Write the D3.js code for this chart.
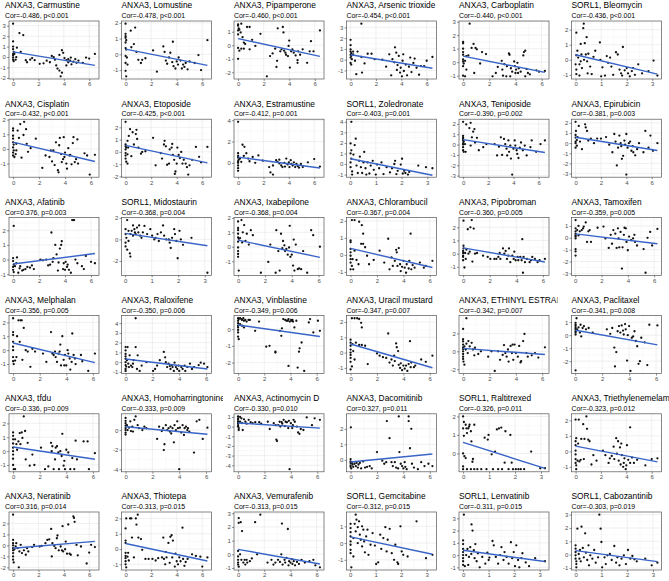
<!DOCTYPE html>
<html>
<head>
<meta charset="utf-8">
<script src="https://cdn.jsdelivr.net/npm/d3@7"></script>
<style>
body { margin: 0; background: #fff; }
text { font-family: "Liberation Sans", Arial, Helvetica, sans-serif; }
</style>
</head>
<body>
<script>
// panel titles, in reading order (6 per row)
const titles = [
  "ANXA3, Carmustine", "ANXA3, Lomustine", "ANXA3, Pipamperone", "ANXA3, Arsenic trioxide", "ANXA3, Carboplatin", "SORL1, Bleomycin",
  "ANXA3, Cisplatin", "ANXA3, Etoposide", "ANXA3, Estramustine", "SORL1, Zoledronate", "ANXA3, Teniposide", "ANXA3, Epirubicin",
  "ANXA3, Afatinib", "SORL1, Midostaurin", "ANXA3, Ixabepilone", "ANXA3, Chlorambucil", "ANXA3, Pipobroman", "ANXA3, Tamoxifen",
  "ANXA3, Melphalan", "ANXA3, Raloxifene", "ANXA3, Vinblastine", "ANXA3, Uracil mustard", "ANXA3, ETHINYL ESTRADIOL", "ANXA3, Paclitaxel",
  "ANXA3, tfdu", "ANXA3, Homoharringtonine", "ANXA3, Actinomycin D", "ANXA3, Dacomitinib", "SORL1, Raltitrexed", "ANXA3, Triethylenemelamine",
  "ANXA3, Neratinib", "ANXA3, Thiotepa", "ANXA3, Vemurafenib", "SORL1, Gemcitabine", "SORL1, Lenvatinib", "SORL1, Cabozantinib"
];

const corValues = [
  "-0.486", "-0.478", "-0.460", "-0.454", "-0.440", "-0.436",
  "-0.432", "-0.425", "-0.412", "-0.403", "-0.390", "-0.381",
  "0.376", "-0.368", "-0.368", "-0.367", "-0.360", "-0.359",
  "-0.356", "-0.350", "-0.349", "-0.347", "-0.342", "-0.341",
  "-0.336", "-0.333", "-0.330", "0.327", "-0.326", "-0.323",
  "0.316", "-0.313", "-0.313", "-0.312", "-0.311", "-0.303"
];
const pValues = [
  "<0.001", "<0.001", "<0.001", "<0.001", "<0.001", "<0.001",
  "<0.001", "<0.001", "=0.001", "=0.001", "=0.002", "=0.003",
  "=0.003", "=0.004", "=0.004", "=0.004", "=0.005", "=0.005",
  "=0.005", "=0.006", "=0.006", "=0.007", "=0.007", "=0.008",
  "=0.009", "=0.009", "=0.010", "=0.011", "=0.011", "=0.012",
  "=0.014", "=0.015", "=0.015", "=0.015", "=0.015", "=0.019"
];

const xTicksANXA3 = [0, 2, 4, 6];
const xTicksSORL1 = [0, 1, 2, 3];
const yTicks = [
  [3,2,1,0,-1,-2], [2,1,0,-1], [1,0,-1,-2], [3,2,1,0,-1], [3,2,1,0,-1], [2,1,0,-1],
  [2,1,0,-1], [2,1,0,-1,-2], [4,2,0], [4,3,2,1,0,-1], [2,1,0,-1,-2,-3], [2,1,0,-1,-2,-3],
  [2,1,0,-1], [2,0,-2], [2,1,0,-1], [2,1,0,-1], [2,1,0,-1], [1,0,-1,-2,-3],
  [2,1,0,-1], [4,3,2,1,0,-1], [0,-1,-2], [2,1,0,-1], [2,0,-2], [1,0,-1,-2],
  [2,1,0,-1], [0,-2,-4], [1,0,-1,-2,-3,-4], [2,1,0], [2,1,0,-1], [2,1,0,-1],
  [2,1,0,-1,-2], [2,1,0,-1], [3,2,1,0,-1], [1,0,-1], [3,2,1,0,-1], [3,2,1,0,-1]
];

// expression (x) , z-score (y) pairs, flattened, one list per panel
const points = [
  [0,3.2, 0,1.5, 0,1.0, 0,0.75, 0.05,0.5, 0,0.3, 0,0.15, 0,-0.05, 0,-0.25, 0.05,-0.4, 0.2,-0.25, 0.25,0, 0.1,0.3, 0.5,2.3, 0.8,2.1, 0.3,0.9, 0.6,0.5, 1.0,-0.3, 1.1,-0.5, 1.35,-0.25, 1.5,-0.1, 1.7,-0.3, 2.1,-0.65, 2.4,-0.6, 2.65,-0.35, 2.9,-0.5, 3.05,0.1, 3.2,0, 3.3,-0.25, 3.4,-0.8, 3.5,-1.1, 3.65,-1.3, 3.75,-1.85, 3.85,-1.5, 3.85,0.65, 3.95,0.4, 3.65,0.2, 4.05,-0.1, 4.2,-0.3, 4.35,-0.5, 4.5,-0.35, 4.6,-0.7, 4.75,-0.45, 4.9,-0.2, 5.0,-0.55, 5.15,-0.35, 4.2,-0.8, 4.35,-0.2, 4.55,-0.05, 5.5,-0.55, 5.75,-0.05, 6.0,-0.15, 6.45,0.3],
  [0,1.95, 0,1.3, 0,1.15, 0,1.05, 0.05,0.9, 0,0.75, 0,0.4, 0.05,0.3, 0,-0.1, 0.1,-0.2, 0,-0.55, 0,-1.05, 0.05,-1.4, 0.15,-0.65, 0.4,1.5, 0.75,1.7, 0.45,0.45, 0.65,0.65, 0.85,0.15, 1.0,-0.35, 1.2,-0.55, 1.3,-0.35, 1.55,-0.25, 2.15,0.25, 2.45,-1.1, 2.95,0.5, 3.05,0.15, 3.15,-0.4, 3.25,-0.6, 3.4,-0.2, 3.5,0.1, 3.65,-0.5, 3.7,0.8, 3.75,-0.75, 3.9,-0.9, 4.0,-0.45, 4.1,-0.65, 4.15,-0.2, 4.3,-0.4, 4.4,-0.9, 4.5,-0.65, 4.6,-0.8, 4.7,-0.55, 4.85,-0.95, 5.0,-0.45, 5.4,-0.55, 5.7,-0.05, 5.9,-1.0, 6.4,0.9],
  [0,1.55, 0,1.45, 0.05,1.25, 0,1.1, 0.1,1.15, 0.2,0.95, 0,0.8, 0.25,1.6, 0.35,0.6, 0.45,0.2, 0,-0.2, 0.1,-0.4, 0,-1.0, 0.25,-0.25, 0.45,-0.25, 0.55,0.1, 0.7,1.35, 0.9,1.35, 1.1,0.4, 1.35,-0.05, 0.9,-0.3, 1.75,0.85, 2.25,-2.3, 2.5,-0.8, 2.7,-0.6, 2.9,-0.25, 3.0,-1.6, 3.1,1.25, 3.05,-1.15, 3.3,-0.45, 3.4,-0.3, 3.5,1.35, 3.55,0.95, 3.6,-0.4, 3.7,-0.55, 3.75,-0.7, 3.9,-0.8, 3.95,-0.05, 4.0,0.35, 4.05,-1.65, 4.15,-0.45, 4.25,-0.3, 4.35,-0.55, 4.5,-0.75, 4.65,-1.3, 4.65,-1.1, 4.7,-0.45, 4.85,-0.7, 5.05,-0.3, 5.4,-1.3, 5.6,-0.45, 5.7,0.3, 5.9,-0.45, 6.4,1.1],
  [0,1.85, 0,1.35, 0,0.95, 0,0.75, 0.05,0.6, 0,0.45, 0.05,0.35, 0,0.2, 0,-0.3, 0.05,-0.45, 0.2,0.5, 0.1,0.05, 0.2,0.75, 0.35,-0.1, 0.45,-1.35, 0.55,0.75, 0.85,3.35, 0.9,-1.2, 0.85,0.25, 1.1,-0.35, 1.35,0.55, 1.65,0.55, 1.9,0.05, 2.5,0, 2.8,-0.65, 3.05,0.5, 3.2,-1.45, 3.3,0.05, 3.45,-0.25, 3.5,1.15, 3.6,0.65, 3.65,-0.95, 3.7,-0.5, 3.8,0.35, 3.9,-1.2, 3.95,-0.75, 4.05,-1.55, 4.1,-0.1, 4.15,0.5, 4.2,-1.05, 4.35,-0.45, 4.45,-1.45, 4.6,-0.65, 4.7,0.2, 4.8,-1.15, 4.95,-0.3, 5.05,0.1, 5.2,-0.75, 5.4,-1.4, 5.55,-0.6, 5.8,-0.6, 6.0,-0.1, 6.45,0.25],
  [0,1.5, 0,1.4, 0,1.0, 0,0.75, 0,0.55, 0,0.2, 0,0.05, 0.05,-0.1, 0,-0.3, 0,-1.0, 0.15,-1.05, 0.15,0.1, 0.25,0.45, 0.25,-0.55, 0.4,0.5, 0.5,2.85, 0.65,1.05, 0.8,1.35, 0.85,-0.8, 0.95,1.05, 1.05,0.95, 1.3,-0.1, 1.45,0.75, 1.75,0.6, 2.25,-1.05, 2.5,-0.8, 2.65,-0.35, 2.95,0.1, 3.0,-0.55, 3.05,-1.0, 3.15,-0.15, 3.3,-1.05, 3.35,-0.3, 3.5,0.65, 3.55,0.55, 3.6,-1.05, 3.65,-0.45, 3.75,-0.7, 3.9,0.05, 3.95,-0.3, 4.0,-0.8, 4.05,-0.55, 4.15,-0.05, 4.2,-0.8, 4.25,-0.45, 4.4,-0.7, 4.6,0.5, 4.65,0.75, 4.75,0.85, 4.75,-1.05, 4.85,-0.5, 4.95,-0.8, 5.1,-0.9, 5.6,-0.6, 5.8,-0.7, 6.25,-0.65],
  [0.03,1.8, 0.03,0.3, 0,-0.3, 0.03,-0.65, 0.03,-0.95, 0.07,0.6, 0.1,0.15, 0.15,-0.3, 0.15,-1.05, 0.2,1.05, 0.2,-0.1, 0.23,0.35, 0.25,-0.55, 0.3,2.1, 0.32,2.4, 0.33,0, 0.36,1.1, 0.4,0.35, 0.43,1.5, 0.45,-0.1, 0.47,-0.9, 0.5,0.4, 0.57,-0.45, 0.63,-0.95, 0.7,0.2, 0.77,0.6, 0.95,1.15, 0.97,0, 1.0,-1.1, 1.05,-0.5, 1.15,-1.05, 1.22,0.25, 1.27,-0.2, 1.35,0.15, 1.4,-0.45, 1.47,-1.0, 1.58,0.5, 1.65,0.35, 1.72,-0.65, 1.78,-0.9, 1.82,-1.05, 1.85,0.85, 1.92,-0.7, 2.0,-0.55, 2.05,-0.9, 2.12,-1.1, 2.2,-0.75, 2.25,-0.55, 2.32,-1.0, 2.45,-0.3, 2.6,-0.9, 2.85,-0.75, 3.05,-0.05, 3.2,-1.05],
  [0,1.4, 0,1.25, 0,0.9, 0,0.7, 0,0.45, 0.05,0.3, 0,0.1, 0.05,-0.1, 0,-0.25, 0,-0.45, 0.1,-0.55, 0.2,-0.35, 0.25,-0.1, 0.25,0.35, 0.35,1.25, 0.45,0.75, 0.55,1.7, 0.65,-0.6, 0.8,0.95, 0.85,1.85, 1.0,1.35, 1.05,0.35, 1.15,-0.2, 1.35,0.05, 1.75,0.7, 2.25,-1.3, 2.5,-0.45, 2.8,-0.55, 2.9,-0.1, 3.0,-0.85, 3.1,-0.1, 3.2,-1.1, 3.3,0.45, 3.45,-1.45, 3.5,-1.6, 3.55,0.25, 3.6,0.75, 3.7,-0.35, 3.75,-0.9, 3.85,-0.7, 3.9,0.8, 3.95,-0.55, 4.0,-0.25, 4.1,-1.0, 4.15,-1.35, 4.25,0.05, 4.35,-0.45, 4.4,-0.4, 4.5,-1.05, 4.6,0.4, 4.65,0.8, 4.75,-0.9, 4.85,-0.7, 4.95,0.65, 5.0,-1.0, 5.5,-0.3, 5.7,-0.45, 5.9,-1.75, 6.3,-0.4],
  [0,2.45, 0,0.6, 0,0.45, 0.05,0.35, 0,0.2, 0,-0.1, 0,-0.3, 0,-0.55, 0.05,-0.8, 0.15,-0.95, 0.15,-0.2, 0.2,0.35, 0.15,0.9, 0.25,1.3, 0.35,1.85, 0.45,-0.35, 0.55,1.6, 0.65,0.6, 0.8,1.45, 0.85,1.8, 0.9,1.05, 1.0,0.35, 1.2,-0.15, 1.3,0, 1.55,0.05, 2.15,1.15, 2.35,-1.1, 2.75,-0.1, 2.85,-0.55, 3.0,0.6, 3.05,0.9, 3.15,0.45, 3.25,-1.05, 3.4,-0.95, 3.45,0.2, 3.6,0.35, 3.65,0.65, 3.7,-0.25, 3.8,-0.65, 3.85,-1.8, 3.9,-1.6, 4.0,-0.95, 4.05,0.35, 4.15,-0.25, 4.25,-0.5, 4.35,0, 4.45,-0.95, 4.55,-0.65, 4.7,-0.95, 4.8,-1.25, 4.9,-1.85, 5.0,-1.1, 5.2,-0.65, 5.5,0.4, 5.75,-0.4, 5.9,-0.85, 6.4,0.4],
  [0,3.85, 0,0.9, 0,0.65, 0,0.5, 0.05,0.3, 0,0.15, 0,0, 0,-0.25, 0,-0.5, 0,-0.75, 0.15,0.4, 0.25,0.1, 0.35,1.7, 0.5,1.5, 0.45,0.65, 0.65,0.9, 0.8,0.4, 0.9,0.15, 1.15,0.55, 1.35,0, 1.6,0.7, 1.95,0.2, 2.45,-0.4, 2.75,-0.25, 3.0,0.25, 3.1,0.1, 3.25,-0.05, 3.25,0.3, 3.4,-0.25, 3.5,-0.4, 2.55,-0.9, 2.75,-1.1, 3.65,0, 3.7,-0.35, 3.8,0.4, 3.9,-0.15, 4.0,0.05, 4.05,-0.4, 4.15,0.25, 4.2,-0.1, 4.3,-0.25, 4.4,0.05, 4.5,-0.4, 4.6,-0.1, 4.7,-0.3, 4.8,-0.45, 4.95,-0.1, 5.1,-0.4, 5.5,0.05, 6.0,0.35, 6.45,-0.35],
  [0.05,4.0, 0.02,1.95, 0.05,1.3, 0.02,1.0, 0.05,0.5, 0.02,0.15, 0.02,-0.3, 0.08,-0.7, 0.08,-1.0, 0.13,0.9, 0.18,1.8, 0.22,2.4, 0.25,-0.15, 0.3,-0.85, 0.35,0.3, 0.38,0.7, 0.42,-0.3, 0.47,-0.85, 0.52,0.15, 0.55,1.15, 0.6,-0.4, 0.63,-1.0, 0.68,0.15, 0.75,-0.9, 0.8,-0.15, 0.88,0.3, 0.92,-0.55, 1.0,-1.0, 1.05,-0.05, 1.13,-0.4, 1.22,0.15, 1.3,-0.95, 1.42,-0.3, 1.55,-0.8, 1.63,-0.4, 1.72,0, 1.75,0.3, 1.8,-0.95, 1.85,-0.65, 1.97,-0.05, 2.02,0.5, 2.05,-0.9, 2.1,-0.65, 2.15,-0.85, 2.25,-1.0, 2.3,-0.75, 2.65,-0.15, 2.95,-0.3, 3.2,-0.4],
  [0,2.2, 0,0.85, 0,0.7, 0,0.55, 0,0.4, 0.05,0.3, 0,0.15, 0,0, 0,-0.25, 0,-0.55, 0.05,-0.7, 0.2,-0.7, 0.15,0.05, 0.25,1.95, 0.5,1.6, 0.6,2.1, 0.6,-0.1, 0.7,0.7, 0.8,1.25, 0.9,1.5, 0.95,0.2, 1.1,0.65, 1.25,-0.55, 1.6,-0.25, 1.85,0.05, 2.5,0.05, 2.7,-1.05, 2.85,-0.2, 3.0,0.7, 3.1,-1.0, 3.25,0.55, 3.35,0.05, 3.45,-0.4, 3.5,-1.05, 3.6,0.4, 3.65,-0.7, 3.75,-0.1, 3.8,-1.35, 3.9,-2.9, 4.0,-0.4, 4.1,0.4, 4.15,-0.1, 4.25,-0.55, 4.3,-0.9, 4.4,-1.3, 4.5,-0.3, 4.6,0.2, 4.75,-0.55, 4.9,-0.1, 5.05,-1.05, 5.35,-0.25, 5.45,0.4, 5.8,-0.7, 6.15,0.05, 6.5,0.4],
  [0,2.1, 0.03,1.2, 0,0.8, 0,0.55, 0.1,0.3, 0,0.15, 0,0, 0.1,-0.25, 0,-0.45, 0.25,1.7, 0.35,0.15, 0.15,0.6, 0.5,-0.6, 0.75,1.85, 0.8,1.55, 0.9,1.2, 1.0,0.25, 1.2,0.45, 1.45,0, 1.7,0.45, 2.0,0.45, 2.4,0.6, 2.65,-0.15, 2.9,-0.9, 3.05,0.9, 3.15,0.15, 3.25,-2.2, 3.35,-0.45, 3.45,0.75, 3.55,0, 3.6,-0.3, 3.65,-1.55, 3.75,-1.25, 3.85,0.25, 3.9,-0.15, 4.0,0.9, 4.0,-3.1, 4.1,-0.45, 4.2,0, 4.3,0.15, 4.4,-0.75, 4.5,-0.3, 4.55,-0.9, 4.7,-1.2, 4.85,-0.6, 5.0,0, 5.35,-0.9, 5.5,1.2, 5.75,-0.45, 5.9,0.75, 6.1,-0.75, 6.45,0],
  [0.05,2.3, 0,0.1, 0,-0.1, 0.05,-0.35, 0,-0.5, 0,-0.7, 0.05,-0.85, 0.15,-0.45, 0.25,-0.25, 0.3,0.15, 0.4,-0.9, 0.5,-0.6, 0.55,-0.45, 0.7,-0.75, 0.8,-0.7, 0.95,-0.65, 1.1,-0.5, 1.3,-0.55, 1.45,-0.4, 1.6,-0.65, 2.1,0, 2.3,-0.05, 2.55,0, 2.7,-0.4, 2.85,-0.35, 2.95,1.85, 3.05,-0.15, 3.1,0.1, 3.25,1.0, 3.35,0.35, 3.45,-0.75, 3.5,-0.2, 3.6,0.75, 3.7,1.0, 3.75,1.25, 3.85,-0.65, 3.9,-0.25, 4.0,-0.7, 4.05,-0.15, 4.15,-0.5, 4.2,-0.35, 4.3,-0.7, 4.45,-0.9, 4.55,2.7, 4.65,2.7, 4.7,2.7, 4.8,0, 4.95,-0.25, 5.3,-0.45, 5.45,-0.65, 5.6,0.25, 6.0,-0.15, 6.3,-0.25],
  [0.02,0.95, 0.02,0.5, 0.05,0.15, 0.02,-0.3, 0.02,-0.65, 0.08,-0.95, 0.08,1.8, 0.13,0.8, 0.13,-0.15, 0.18,-1.3, 0.2,-1.6, 0.2,0.5, 0.25,0.8, 0.3,0.35, 0.3,1.3, 0.35,0.95, 0.37,0.65, 0.4,0.5, 0.45,1.1, 0.5,0.65, 0.53,1.3, 0.57,0.35, 0.62,0.15, 0.67,0.65, 0.73,1.25, 0.83,0.5, 0.95,0.95, 1.02,0.35, 1.1,0, 1.15,0.15, 1.22,0.5, 1.27,-0.15, 1.35,0.65, 1.43,1.3, 1.47,0.35, 1.55,0, 1.65,0, 1.68,-0.3, 1.72,-0.8, 1.77,0.15, 1.85,0.95, 1.88,0.5, 1.93,-0.15, 1.98,-1.75, 2.05,0.8, 2.1,0, 2.18,-0.5, 2.5,0.15, 3.1,-3.1],
  [0,1.75, 0,1.3, 0,1.15, 0,0.9, 0,0.65, 0.05,0.55, 0,0.35, 0,-0.05, 0,-0.3, 0,-0.5, 0,-0.7, 0.05,-1.65, 0.15,0.6, 0.25,1.85, 0.3,0.3, 0.35,1.0, 0.45,1.5, 0.55,0.4, 0.65,0.9, 0.8,0.15, 0.95,1.15, 1.1,0.8, 1.7,-1.8, 2.25,-1.05, 2.4,0.15, 2.8,-1.8, 2.85,1.15, 3.0,-0.3, 3.1,-1.65, 3.2,0.9, 3.3,-0.1, 3.35,0.4, 3.45,0.1, 3.5,-0.3, 3.6,-0.15, 3.7,-0.55, 3.8,-0.05, 3.85,1.45, 3.9,-0.7, 4.0,-0.55, 4.1,-1.3, 4.15,0.5, 4.2,-1.65, 4.3,0.15, 4.45,-1.55, 4.55,-1.5, 4.7,-1.55, 4.85,-0.3, 5.15,-1.8, 5.45,1.15, 5.6,0.8, 6.1,0],
  [0.1,2.05, 0.3,2.05, 0.65,1.95, 0.85,1.75, 0.95,1.25, 0,0.85, 0,0.75, 0,0.35, 0,0.15, 0,-0.05, 0,-0.25, 0,-0.45, 0.1,-0.65, 0,-0.85, 0.15,-0.25, 0.2,-0.85, 0.3,0.25, 0.45,-0.3, 0.6,-0.55, 0.8,0.65, 0.95,0.65, 1.1,0.45, 1.25,-0.05, 1.4,-0.55, 1.75,-0.3, 2.2,0.25, 2.55,-0.45, 2.85,0.95, 2.95,-0.85, 3.1,-0.15, 3.2,-0.65, 3.35,-0.35, 3.45,0.3, 3.5,0.15, 3.55,-0.65, 3.65,0.4, 3.75,-0.55, 3.8,-0.95, 3.9,-0.7, 4.0,-0.35, 4.1,-0.75, 4.2,-1.05, 4.25,-0.55, 4.4,-0.8, 4.45,-0.35, 4.55,1.25, 4.6,-0.85, 4.7,-0.6, 4.85,-0.75, 5.25,-0.45, 5.55,-0.75, 5.7,-0.65, 6.2,-0.35],
  [0.03,2.5, 0.03,0.6, 0.03,0.4, 0,0.2, 0,0.05, 0,-0.15, 0,-0.25, 0,-0.5, 0.1,-1.05, 0.15,0.05, 0.2,-0.4, 0.25,0.3, 0.35,1.85, 0.4,0, 0.5,0.15, 0.55,2.0, 0.65,2.55, 0.7,-0.6, 0.8,1.9, 0.9,0, 1.05,0.05, 1.5,-0.15, 1.85,-0.25, 2.05,-0.4, 2.35,-0.4, 2.5,-0.4, 2.65,-0.25, 2.75,0.05, 2.8,-0.4, 3.0,0.4, 3.1,0, 3.2,0.2, 3.3,-0.4, 3.4,-0.15, 3.45,0.4, 3.55,-0.65, 3.7,-0.15, 3.8,-0.4, 3.85,0.15, 3.95,-0.5, 4.1,-0.25, 4.15,-0.5, 4.3,-0.25, 4.4,-0.5, 4.45,1.1, 4.5,-1.45, 4.55,-0.25, 4.65,-0.65, 4.8,-0.4, 5.0,-0.65, 5.1,-0.5, 5.2,-0.25, 5.4,-0.4, 5.6,-0.65, 5.75,-0.5, 6.15,-0.4],
  [0.03,1.5, 0.03,0.8, 0.03,0.55, 0.03,0.35, 0.03,0.2, 0.03,0.1, 0.03,-0.05, 0.03,-0.95, 0.03,-1.15, 0.03,-1.5, 0.15,0.65, 0.25,1.0, 0.25,0.2, 0.35,0.55, 0.5,0.65, 0.6,0.8, 0.65,0.95, 0.8,1.3, 0.9,-0.35, 1.0,0.55, 1.1,0.65, 1.2,-0.35, 1.7,0.85, 2.15,0.95, 2.3,-0.05, 2.55,-0.85, 2.7,0.25, 2.8,-0.5, 2.9,0.65, 3.05,0.35, 3.15,-0.85, 3.25,0.8, 3.3,-0.05, 3.35,-0.8, 3.45,0.5, 3.55,-2.6, 3.6,-0.8, 3.7,0.25, 3.75,0.85, 3.85,0.8, 3.9,-0.35, 4.0,-1.05, 4.1,0.1, 4.25,-0.2, 4.4,-0.05, 4.5,0.25, 4.55,-0.35, 4.7,-0.65, 5.2,-0.95, 5.35,-2.95, 5.5,0, 5.7,0.5, 5.85,-0.65, 6.25,0.75],
  [0,2.3, 0,1.3, 0,1.1, 0,0.6, 0,0.25, 0,0, 0,-0.5, 0,-0.8, 0.05,-1.0, 0.15,-0.75, 0.25,-0.5, 0.3,1.0, 0.4,2.15, 0.5,0.6, 0.55,2.15, 0.65,2.15, 0.7,-0.7, 0.8,1.6, 0.95,0, 1.1,-0.1, 1.3,-1.2, 1.45,0.1, 1.65,-0.1, 2.25,-0.25, 2.5,-0.85, 2.85,1.3, 2.95,-0.25, 3.05,-0.35, 3.15,-0.1, 3.2,-0.5, 3.3,-0.85, 3.4,-0.25, 3.5,-0.1, 3.55,0.4, 3.6,-1.1, 3.7,1.0, 3.8,-0.7, 3.85,-1.1, 3.9,-0.35, 4.0,-1.1, 4.1,0, 4.15,-0.25, 4.25,-0.6, 4.3,-1.4, 4.4,-0.85, 4.45,1.2, 4.55,-0.35, 4.65,-0.6, 4.7,-1.0, 5.1,-0.35, 5.2,-0.8, 5.65,-1.5, 6.15,-0.25],
  [0.75,4.5, 0,1.55, 0,1.2, 0,0.85, 0,0.6, 0,0.35, 0,0, 0,-0.3, 0.05,-0.45, 0,-0.7, 0,-0.9, 0.1,0.2, 0.15,1.55, 0.2,-0.15, 0.25,-0.5, 0.3,0.7, 0.4,-0.35, 0.5,-0.5, 0.55,-0.15, 0.6,0.2, 0.75,1.55, 0.85,-0.7, 0.9,0.7, 1.05,-0.9, 1.2,-0.35, 1.55,0, 2.05,-0.9, 2.2,-0.7, 2.35,-0.35, 2.55,0.2, 2.85,1.05, 2.95,0.5, 3.0,0, 3.1,-0.5, 3.2,-0.15, 3.3,-0.4, 3.35,-0.7, 3.45,-0.3, 3.5,-0.5, 3.6,-0.9, 3.65,-0.05, 3.75,-0.5, 3.85,-0.7, 3.95,-0.35, 4.0,-0.9, 4.15,-0.5, 4.25,-0.7, 4.4,-0.35, 4.45,-0.9, 4.6,-0.5, 4.8,-0.15, 4.95,-0.7, 5.1,-0.5, 5.45,-0.3, 5.6,-0.05, 5.85,-0.15, 6.1,-0.5],
  [0,0.65, 0.05,0.6, 0.15,0.65, 0.25,0.6, 0.3,0.55, 0.4,0.65, 0.45,0.5, 0.55,0.55, 0.65,0.45, 0.8,0.55, 0.9,0.55, 0,0.5, 0,0.35, 0,0.2, 0,0.1, 0,-0.05, 0,-0.2, 0,-0.45, 0.05,-0.6, 0.15,0.3, 0.3,0.2, 0.45,0.1, 1.3,-0.1, 1.6,0.45, 2.15,-1.05, 2.4,-1.0, 2.85,-1.4, 2.85,-1.35, 3.2,-0.1, 3.3,-0.4, 3.35,0.05, 3.45,0.6, 3.6,0.55, 3.7,0.5, 3.8,0.5, 3.85,0.6, 3.95,0.45, 4.05,0.55, 4.1,0.5, 4.15,0.55, 3.85,-2.2, 4.2,0.45, 4.3,0.1, 4.45,0.5, 4.55,-2.3, 4.65,-1.35, 4.7,-1.15, 4.85,-0.8, 5.05,-2.5, 5.4,0.4, 5.5,0.6, 5.75,-0.2, 6.1,0.5, 6.25,-0.1],
  [0.1,2.25, 0.3,2.25, 0.5,2.25, 0.65,2.2, 0.8,1.95, 0.85,1.65, 0,0.85, 0,0.65, 0,0.45, 0,0.2, 0,0, 0,-0.15, 0,-0.35, 0,-0.6, 0.1,-0.9, 0,-1.1, 0.15,0.55, 0.2,0.1, 0.3,-0.45, 0.4,0.65, 0.65,0.5, 0.85,0.5, 1.1,0.45, 1.3,-0.75, 2.0,-0.05, 2.2,-0.2, 2.45,-0.3, 2.7,-0.35, 2.85,1.25, 2.95,-0.65, 3.1,-0.45, 3.2,-0.85, 3.3,-0.2, 3.35,-0.55, 3.45,0.6, 3.5,0.35, 3.6,0.1, 3.65,-0.8, 3.75,-1.0, 3.8,-0.7, 3.9,-1.15, 4.0,-0.85, 4.1,-1.05, 4.2,-0.85, 4.3,-1.2, 4.4,-0.75, 4.5,0.75, 4.55,-0.95, 4.6,-0.65, 4.8,-0.95, 4.9,-0.85, 5.35,-0.45, 5.7,-0.6, 6.2,-0.2],
  [0.25,3.7, 0,1.35, 0,1.1, 0,0.75, 0,0.45, 0,0.25, 0,0, 0,-0.3, 0,-0.6, 0,-0.85, 0.03,-1.15, 0.1,-1.5, 0,2.5, 0.1,0.55, 0.2,0.2, 0.25,0.85, 0.35,-0.2, 0.4,1.15, 0.5,0.55, 0.65,0.95, 0.75,0.2, 0.85,-0.45, 0.9,0.4, 1.15,-0.3, 1.35,0, 1.9,-0.6, 2.15,0, 2.4,-2.2, 2.65,0, 2.8,-0.95, 3.0,-0.4, 3.1,0.7, 3.2,-0.2, 3.3,-0.6, 3.4,0.2, 3.45,-1.15, 3.6,0.6, 3.7,-0.2, 3.75,0.75, 3.8,-0.95, 3.9,0.75, 4.0,-0.2, 4.15,-0.6, 4.25,0.6, 4.35,-1.25, 4.4,-1.1, 4.55,1.15, 4.65,1.95, 4.8,-0.2, 4.9,-0.6, 5.2,-0.45, 5.45,-0.2, 5.7,-0.7, 6.2,0.45],
  [0.1,1.3, 0.03,0.95, 0.03,0.8, 0.03,0.7, 0.03,0.55, 0.03,0.45, 0.03,0.3, 0.03,0.2, 0.03,0.05, 0.03,-2.7, 0.15,0.45, 0.25,0.6, 0.35,0.2, 0.4,0.8, 0.45,-0.1, 0.55,0.55, 0.65,0.7, 0.8,0.45, 1.0,0.55, 1.3,0.2, 2.35,0.45, 2.6,0.1, 2.75,0.55, 2.9,-0.95, 2.95,-2.4, 3.05,-1.3, 3.15,0.3, 3.25,0.7, 3.35,0.2, 3.45,0.75, 3.55,0.35, 3.6,0.05, 3.7,0.85, 3.75,0.45, 3.85,-1.95, 3.9,0, 4.0,0.7, 4.1,-2.75, 4.2,-0.2, 4.3,-0.1, 4.4,0.3, 4.5,-0.45, 4.6,-0.85, 4.7,-2.2, 4.8,-2.0, 4.9,-0.2, 5.15,-0.55, 5.35,-2.3, 5.5,0.8, 6.1,0.75],
  [0,1.35, 0,1.1, 0,0.85, 0,0.55, 0,0.25, 0,0, 0,-0.25, 0,-0.55, 0,-1.0, 0.05,-1.3, 0.15,-1.3, 0.15,0.85, 0.25,0.5, 0.3,0.1, 0.4,0.7, 0.5,1.3, 0.55,0.5, 0.65,1.35, 0.7,0.95, 0.8,2.5, 0.9,1.45, 0.95,-0.6, 1.1,0.6, 1.25,-1.05, 1.45,-0.25, 1.6,-1.0, 2.1,0.25, 2.4,-1.3, 2.65,-1.1, 2.85,0.6, 2.9,0, 2.95,0.35, 3.05,-1.3, 3.15,-0.6, 3.2,0.25, 3.3,0.35, 3.4,-0.1, 3.45,-1.3, 3.55,0, 3.65,-0.35, 3.7,1.25, 3.8,-1.05, 3.85,-0.7, 3.9,-1.3, 4.0,0.1, 4.15,-0.1, 4.3,-1.3, 4.45,-0.5, 4.6,-1.3, 4.7,0.75, 4.8,-0.6, 5.3,0.7, 5.6,0.7, 5.7,-1.3, 6.15,-0.15],
  [0,1.25, 0,0.95, 0,0.7, 0,0.45, 0,0.2, 0,0, 0,-0.25, 0,-0.45, 0.1,0.5, 0.15,0, 0.25,0.25, 0.35,0.9, 0.4,-0.1, 0.5,0.35, 0.55,-0.15, 0.65,1.05, 0.75,1.4, 0.9,0.5, 1.0,0.2, 1.25,0, 1.4,0.35, 1.55,0.2, 2.35,-0.9, 2.5,0.35, 2.7,-0.1, 2.8,0.2, 2.85,-2.05, 2.9,-1.45, 3.0,0.5, 3.1,0, 3.2,0.2, 3.3,-0.15, 3.35,0.35, 3.4,-0.35, 3.5,0.2, 3.6,-1.25, 3.65,0.5, 3.75,0, 3.85,0.9, 3.9,0.2, 4.0,-4.0, 4.05,0.25, 4.15,-0.25, 4.25,0.5, 4.35,-0.5, 4.4,0.2, 4.5,0.35, 4.6,0, 4.65,0.2, 4.75,-0.15, 5.1,-2.3, 5.3,0.9, 5.5,1.05, 5.75,-0.9, 6.1,0.25],
  [0,1.05, 0,0.85, 0,0.7, 0,0.5, 0,0.35, 0,0.15, 0,0, 0.05,-0.15, 0.05,-0.35, 0.15,1.0, 0.15,0.5, 0.25,0.85, 0.3,0.35, 0.35,-0.35, 0.45,0.75, 0.55,0.5, 0.65,0.3, 0.8,0.7, 0.95,0.45, 1.1,0.35, 1.3,0.45, 1.6,0.45, 1.75,0.3, 2.25,0.5, 2.4,-0.25, 2.7,0.35, 2.85,0.15, 2.9,-1.35, 2.95,-1.5, 3.05,0.15, 3.15,0.5, 3.2,0, 3.3,0.45, 3.35,0.3, 3.45,0.7, 3.55,0.05, 3.6,0.5, 3.7,0.45, 3.8,-0.15, 3.85,0.6, 3.9,-4.4, 4.0,0.35, 4.1,-0.15, 4.15,0.15, 4.2,0.7, 4.3,0.5, 4.45,0, 4.55,-0.6, 4.65,-0.75, 4.75,-0.25, 4.95,-0.35, 5.2,0.95, 5.6,0.15, 5.8,0.85, 6.2,0.7],
  [0,0.05, 0,-0.1, 0,-0.2, 0,-0.35, 0,-0.45, 0.05,-0.55, 0.1,-0.2, 0.15,-0.3, 0.2,-0.45, 0.3,-0.25, 0.4,-0.4, 0.45,-0.2, 0.55,-0.5, 0.6,-0.3, 0.7,-0.2, 0.8,-0.55, 0.95,-0.1, 1.1,-0.5, 1.25,-0.45, 1.45,-0.4, 1.6,-0.55, 0.02,2.1, 2.0,0.5, 2.4,-0.05, 2.55,-0.25, 2.7,-0.15, 2.75,2.5, 2.95,1.4, 3.1,-0.15, 3.2,-0.4, 3.35,-0.15, 3.45,-0.5, 3.6,-0.55, 3.65,2.8, 3.7,0.5, 3.8,-0.25, 3.9,-0.4, 4.0,-0.55, 4.1,-0.15, 4.15,-0.45, 4.25,-0.6, 4.4,2.8, 4.4,2.5, 4.5,0.75, 4.6,2.0, 4.65,-0.25, 4.8,-0.5, 5.1,-0.6, 5.35,-0.15, 5.6,-0.4, 5.9,-0.25, 6.2,-0.4],
  [0,2.0, 0.03,1.7, 0,1.35, 0.03,0.95, 0,0, 0.05,-0.15, 0.1,-0.25, 0,-0.7, 0,-0.85, 0.1,1.55, 0.13,1.35, 0.15,1.1, 0.2,1.35, 0.23,1.45, 0.25,1.55, 0.3,1.2, 0.32,0.65, 0.36,-0.45, 0.38,-0.3, 0.43,1.55, 0.15,-0.85, 0.3,-0.85, 0.43,-0.85, 0.55,-0.85, 0.7,-0.85, 0.83,0.85, 0.9,-0.85, 0.95,0.75, 0.98,1.0, 1.1,-0.05, 1.15,-0.85, 1.23,0.1, 1.3,1.3, 1.35,-0.85, 1.38,1.35, 1.47,1.4, 1.5,-0.85, 1.6,-0.5, 1.63,1.2, 1.75,-0.85, 1.82,1.0, 1.87,-0.5, 1.92,-0.85, 2.03,-0.85, 2.13,-0.85, 2.22,-0.85, 2.35,-0.85, 2.62,0.1, 2.97,-0.8, 3.15,-0.8],
  [0,2.05, 0.05,0.85, 0,0.65, 0,0.4, 0,0.05, 0,-0.2, 0,-0.5, 0,-0.75, 0.05,-0.9, 0.05,-1.15, 0.15,-0.6, 0.2,0.5, 0.25,2.05, 0.3,-0.65, 0.4,-0.55, 0.45,0.8, 0.6,1.75, 0.65,-0.5, 0.7,0.8, 0.85,2.25, 0.9,1.45, 1.0,0.75, 1.1,0.65, 1.25,-0.85, 1.4,-0.25, 1.65,-0.6, 2.15,0.05, 2.35,-0.25, 2.6,-0.75, 2.7,-0.45, 2.85,-0.3, 3.0,0.3, 3.05,-0.5, 3.2,0.85, 3.25,-0.15, 3.35,0.65, 3.4,-0.6, 3.5,0.25, 3.55,-0.85, 3.6,0.5, 3.65,-0.25, 3.75,-1.0, 3.8,-0.75, 3.85,-0.45, 3.95,-1.15, 4.0,-0.9, 4.05,0.4, 4.15,-0.55, 4.3,1.55, 4.3,-0.75, 4.45,-0.4, 4.6,-0.75, 4.85,-0.55, 5.5,-0.9, 6.0,-0.5, 6.45,-0.45],
  [0,2.8, 0,0.5, 0,0.2, 0,0, 0,-0.25, 0,-0.45, 0,-0.7, 0,-1.0, 0,-1.3, 0.05,-1.55, 0.1,-0.35, 0.2,-0.1, 0.25,0.2, 0.35,-0.25, 0.45,-2.0, 0.5,-0.55, 0.6,0.05, 0.7,-0.7, 0.85,-0.45, 1.0,-0.85, 1.1,-0.25, 1.2,-0.55, 1.5,-0.15, 1.65,0.05, 2.1,-0.1, 2.25,-0.05, 2.55,0.2, 2.7,0.5, 2.85,0.55, 3.0,1.5, 3.05,-1.0, 3.1,0.2, 3.25,-0.05, 3.35,-0.25, 3.45,0.65, 3.5,0.9, 3.6,-0.45, 3.75,-0.1, 3.85,-0.45, 3.9,1.75, 3.95,-0.55, 4.1,-0.35, 4.15,0.35, 4.25,-0.75, 4.35,1.9, 4.45,-0.75, 4.55,-0.85, 4.75,2.65, 4.8,2.5, 4.85,2.15, 5.0,0.05, 5.1,-0.9, 5.35,-0.1, 5.8,-1.65, 6.0,-0.65, 6.15,0.05, 6.45,-0.15],
  [0,1.35, 0,0.55, 0,0.4, 0,-0.25, 0,-0.45, 0,-0.6, 0,-0.8, 0,-1.0, 0.05,-1.2, 0.05,2.0, 0.15,-0.5, 0.2,-0.25, 0.25,-0.75, 0.35,2.0, 0.45,2.0, 0.5,0.75, 0.65,-0.55, 0.8,2.0, 0.85,1.6, 0.95,2.25, 1.0,0.75, 1.2,0.65, 1.3,-0.05, 1.55,-0.65, 1.8,-0.65, 2.1,-0.65, 2.35,-0.75, 2.55,-0.6, 2.85,-0.55, 2.95,0.75, 3.0,-0.65, 3.1,-1.0, 3.15,-0.2, 3.2,-0.55, 3.35,0.4, 3.45,-0.9, 3.5,0.8, 3.6,0.9, 3.65,-0.55, 3.7,0.55, 3.85,-1.15, 3.9,-0.3, 4.0,-0.8, 4.1,-1.0, 4.2,-0.55, 4.3,-0.8, 4.45,1.4, 4.5,-0.65, 4.6,-1.1, 4.7,-0.85, 4.85,-0.65, 5.2,-0.35, 5.5,-0.45, 5.85,-0.5, 6.0,-1.15, 6.4,-0.55],
  [0.05,2.65, 0.05,2.3, 0.2,2.35, 0.3,1.7, 0,0.25, 0,-0.15, 0,-0.4, 0,-0.6, 0,-0.75, 0.05,-0.9, 0.15,0, 0.25,-0.4, 0.4,-0.6, 0.5,-0.4, 0.55,-0.75, 0.65,-0.4, 0.7,-0.6, 0.9,-0.5, 1.05,-0.3, 1.3,2.35, 1.45,0, 1.7,2.9, 2.25,-0.6, 2.55,-0.4, 2.7,-0.75, 2.85,-0.6, 3.05,-0.4, 3.2,-0.55, 3.3,0, 3.35,2.25, 3.4,-0.75, 3.55,-0.4, 3.6,-0.6, 3.7,-0.25, 3.8,1.85, 3.85,-0.8, 3.9,-0.5, 4.0,-0.6, 4.1,-0.35, 4.15,-0.7, 4.25,-0.5, 4.35,-0.8, 4.5,-0.55, 4.65,-0.7, 4.85,-0.4, 5.1,-0.6, 5.45,-0.5, 5.75,-0.4, 5.9,-0.8, 6.25,-0.95],
  [0.02,1.15, 0.02,0.9, 0.02,0.65, 0.02,0.4, 0.02,0.1, 0.02,-0.1, 0.02,-0.4, 0.02,-0.6, 0.05,-1.45, 0.13,0.3, 0.13,-0.8, 0.18,1.15, 0.22,1.7, 0.22,0.7, 0.25,1.4, 0.3,0.95, 0.3,0, 0.35,1.3, 0.38,0.5, 0.42,0.2, 0.47,1.0, 0.47,-0.2, 0.52,0.8, 0.55,0.1, 0.58,-0.55, 0.63,0.4, 0.68,0.8, 0.72,-0.7, 0.8,-0.1, 0.88,0.6, 0.97,-0.15, 1.02,-1.25, 1.1,-1.15, 1.18,0.5, 1.22,-0.35, 1.3,0.3, 1.38,0.95, 1.43,-0.5, 1.47,0.2, 1.55,0.85, 1.63,-0.6, 1.72,-1.0, 1.77,-0.1, 1.85,-1.15, 1.88,-1.25, 1.97,1.0, 2.02,-0.5, 2.08,-0.7, 2.25,-0.8, 2.6,1.3, 2.97,-0.9, 3.22,-0.7],
  [0.03,3.3, 0,1.2, 0,0.9, 0,0.5, 0,0.25, 0,0, 0,-0.25, 0,-0.5, 0,-0.8, 0.07,-0.9, 0.12,0, 0.17,0.5, 0.2,-0.8, 0.23,-0.15, 0.28,0.65, 0.32,0.1, 0.33,2.5, 0.37,2.0, 0.42,0.4, 0.45,-0.25, 0.48,0.9, 0.53,-0.5, 0.58,0.15, 0.65,-1.0, 0.75,-0.15, 0.87,-0.7, 0.95,0.2, 1.0,-0.4, 1.03,-0.2, 1.15,1.15, 1.2,0.8, 1.28,-0.15, 1.37,-0.7, 1.45,0, 1.5,0.65, 1.58,-0.4, 1.62,0.25, 1.7,-0.15, 1.78,-0.7, 1.87,1.05, 1.92,-0.25, 1.98,0.25, 2.03,-0.9, 2.08,0.8, 2.15,-0.4, 2.2,-1.0, 2.28,-0.25, 2.32,0.15, 2.45,-0.6, 2.58,-0.9, 2.82,-0.25, 3.2,-0.5],
  [0,0.7, 0,0.45, 0,0.2, 0,-0.05, 0,-0.3, 0.03,-0.5, 0.03,-0.7, 0.03,-0.95, 0.07,1.95, 0.12,0.05, 0.15,-0.3, 0.17,0.35, 0.2,-0.5, 0.23,2.1, 0.28,0.5, 0.32,-0.2, 0.37,1.6, 0.4,0.15, 0.45,-0.4, 0.5,0.7, 0.52,-0.8, 0.57,-0.05, 0.65,-0.3, 0.72,0.35, 0.78,-0.6, 0.87,-0.2, 0.92,3.0, 0.97,1.95, 1.0,0.95, 1.03,-0.95, 1.12,-0.2, 1.17,-0.7, 1.23,-0.05, 1.33,0.05, 1.4,-0.4, 1.5,0.65, 1.57,-0.6, 1.62,-0.2, 1.7,-0.8, 1.78,-0.3, 1.87,-0.05, 1.95,-0.7, 2.03,0.35, 2.12,-0.3, 2.2,-0.1, 2.28,-0.35, 2.37,-0.5, 2.7,-0.3, 2.95,-0.8, 3.17,-0.6]
];

const width = 669;
const height = 581;
const cellW = width / 6;
const colStep = 112.5;
const rowStep = 98.2;
const panelW = 90;
const panelH = 58;

const svg = d3.select("body").append("svg")
  .attr("width", width)
  .attr("height", height);

const defs = svg.append("defs");
for (let c = 0; c < 6; c++) {
  defs.append("clipPath").attr("id", "cell" + c)
    .append("rect")
    .attr("x", c * cellW).attr("y", 0)
    .attr("width", cellW).attr("height", height);
}

function styleAxis(a) {
  a.attr("font-size", 6);
  a.select(".domain").remove();
  a.selectAll("line").attr("stroke", "#444").attr("stroke-width", 0.6);
  a.selectAll("text").attr("fill", "#4d4d4d");
}

titles.forEach((title, i) => {
  const col = i % 6;
  const row = Math.floor(i / 6);
  const left = 9 + col * colStep;
  const top = 21 + row * rowStep;

  const data = d3.range(0, points[i].length, 2).map(k => [points[i][k], points[i][k + 1]]);
  const xExt = d3.extent(data, d => d[0]);
  const yExt = d3.extent(data, d => d[1]);
  const xPad = (xExt[1] - xExt[0]) * 0.05;
  const yPad = (yExt[1] - yExt[0]) * 0.05;

  const x = d3.scaleLinear().domain([xExt[0] - xPad, xExt[1] + xPad]).range([left, left + panelW]);
  const y = d3.scaleLinear().domain([yExt[0] - yPad, yExt[1] + yPad]).range([top + panelH, top]);

  const inside = s => v => v >= s.domain()[0] - 1e-9 && v <= s.domain()[1] + 1e-9;
  const xt = (title.startsWith("SORL1") ? xTicksSORL1 : xTicksANXA3).filter(inside(x));
  const yt = yTicks[i].slice().sort((a, b) => a - b);
  const ytIn = yt.filter(inside(y));
  const minor = (ticks, s) => {
    const step = ticks[1] - ticks[0];
    const out = [];
    for (let v = ticks[0] - step / 2; v <= ticks[ticks.length - 1] + step; v += step) out.push(v);
    return out.filter(inside(s));
  };

  const g = svg.append("g").attr("clip-path", `url(#cell${col})`);

  g.append("rect")
    .attr("x", left).attr("y", top)
    .attr("width", panelW).attr("height", panelH)
    .attr("fill", "#fff");

  // grid
  const grid = g.append("g");
  grid.selectAll(".vx-minor").data(minor(xt, x)).join("line")
    .attr("x1", d => x(d)).attr("x2", d => x(d))
    .attr("y1", top).attr("y2", top + panelH)
    .attr("stroke", "#f0f0f0").attr("stroke-width", 0.35);
  grid.selectAll(".hy-minor").data(minor(yt, y)).join("line")
    .attr("x1", left).attr("x2", left + panelW)
    .attr("y1", d => y(d)).attr("y2", d => y(d))
    .attr("stroke", "#f0f0f0").attr("stroke-width", 0.35);
  grid.selectAll(".vx").data(xt).join("line")
    .attr("x1", d => x(d)).attr("x2", d => x(d))
    .attr("y1", top).attr("y2", top + panelH)
    .attr("stroke", "#e6e6e6").attr("stroke-width", 0.6);
  grid.selectAll(".hy").data(ytIn).join("line")
    .attr("x1", left).attr("x2", left + panelW)
    .attr("y1", d => y(d)).attr("y2", d => y(d))
    .attr("stroke", "#e6e6e6").attr("stroke-width", 0.6);

  // points
  g.append("g").selectAll("circle").data(data).join("circle")
    .attr("cx", d => x(d[0]))
    .attr("cy", d => y(d[1]))
    .attr("r", 1.15)
    .attr("fill", "#111");

  // least squares line
  const mx = d3.mean(data, d => d[0]);
  const my = d3.mean(data, d => d[1]);
  const slope = d3.sum(data, d => (d[0] - mx) * (d[1] - my)) / d3.sum(data, d => (d[0] - mx) ** 2);
  const icpt = my - slope * mx;
  g.append("line")
    .attr("x1", x(xExt[0])).attr("y1", y(icpt + slope * xExt[0]))
    .attr("x2", x(xExt[1])).attr("y2", y(icpt + slope * xExt[1]))
    .attr("stroke", "#3864c8").attr("stroke-width", 1.4);

  g.append("rect")
    .attr("x", left).attr("y", top)
    .attr("width", panelW).attr("height", panelH)
    .attr("fill", "none").attr("stroke", "#555").attr("stroke-width", 0.7);

  // axes
  g.append("g")
    .attr("transform", `translate(0,${top + panelH})`)
    .call(d3.axisBottom(x).tickValues(xt).tickSize(2).tickPadding(1.2).tickFormat(d => String(d)))
    .call(styleAxis);
  g.append("g")
    .attr("transform", `translate(${left},0)`)
    .call(d3.axisLeft(y).tickValues(ytIn).tickSize(2).tickPadding(1.2).tickFormat(d => String(d)))
    .call(styleAxis);

  // titles
  g.append("text")
    .attr("x", col === 0 ? left - 4 : left).attr("y", top - 12.6)
    .attr("font-size", 8.4).attr("fill", "#000")
    .text(title);
  g.append("text")
    .attr("x", col === 0 ? left - 4 : left).attr("y", top - 2.8)
    .attr("font-size", 6.9).attr("fill", "#000")
    .text(`Cor=${corValues[i]}, p${pValues[i]}`);
});
</script>
</body>
</html>
